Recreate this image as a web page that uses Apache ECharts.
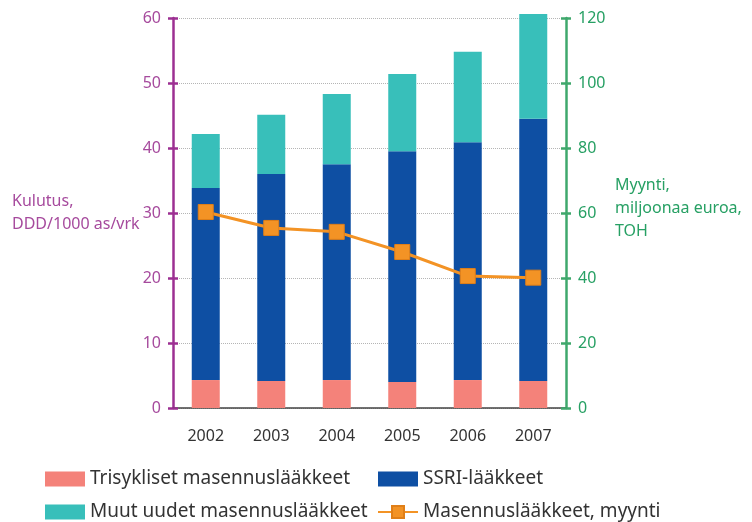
<!DOCTYPE html>
<html>
<head>
<meta charset="utf-8">
<script src="https://cdn.jsdelivr.net/npm/echarts@6/dist/echarts.min.js"></script>
<style>
	html, body { margin: 0; padding: 0; background: #fff; }
	#chart { width: 752px; height: 522px; }
</style>
</head>
<body>
<div id="chart"></div>
<script>
	var years = ['2002', '2003', '2004', '2005', '2006', '2007'];
	var trisykliset = [4.3, 4.15, 4.3, 4.0, 4.3, 4.15];
	var ssri = [29.55, 31.85, 33.2, 35.5, 36.6, 40.35];
	var muut = [8.3, 9.1, 10.8, 11.9, 13.9, 16.1];
	var myynti = [60.3, 55.4, 54.2, 48.0, 40.6, 40.1];

	var purple = '#9c2f92';
	var green = '#3fa86c';
	var font = 'Noto Sans';

	var chart = echarts.init(document.getElementById('chart'));

	// left / right axis, ticks on both sides -> extra axis with inside ticks
	function leftAxis(inside) {
		return {
			type: 'value', min: 0, max: 60, interval: 10, position: 'left',
			axisLine: { show: !inside, lineStyle: { color: purple, width: 2.5 } },
			axisTick: { show: true, inside: inside, length: 5, lineStyle: { color: purple, width: 2.5 } },
			axisLabel: { show: !inside, color: '#a64a9d', fontSize: 16, fontFamily: font, margin: 12 },
			splitLine: { show: !inside, lineStyle: { color: '#b5b5b5', type: 'dotted', width: 1 } }
		};
	}
	function rightAxis(inside) {
		return {
			type: 'value', min: 0, max: 120, interval: 20, position: 'right',
			axisLine: { show: !inside, lineStyle: { color: green, width: 2.5 } },
			axisTick: { show: true, inside: inside, length: 5, lineStyle: { color: green, width: 2.5 } },
			axisLabel: { show: !inside, color: '#27a064', fontSize: 16, fontFamily: font, margin: 12 },
			splitLine: { show: false }
		};
	}

	var legendText = { color: '#333', fontSize: 19, fontFamily: font, lineHeight: 20 };

	var option = {
		animation: false,
		grid: { left: 173, right: 186, top: 18, bottom: 114 },
		xAxis: {
			type: 'category',
			data: years,
			axisLine: { lineStyle: { color: '#444', width: 1.5 } },
			axisTick: { show: false },
			axisLabel: { color: '#333', fontSize: 16, fontFamily: font, margin: 20 }
		},
		yAxis: [leftAxis(false), rightAxis(false), leftAxis(true), rightAxis(true)],
		legend: [{
			orient: 'vertical', left: 45, top: 469, height: 60, padding: 0,
			itemWidth: 40, itemHeight: 15, itemGap: 13, icon: 'rect',
			textStyle: legendText,
			data: ['Trisykliset masennuslääkkeet', 'Muut uudet masennuslääkkeet']
		}, {
			orient: 'vertical', left: 377, top: 469, height: 60, padding: 0,
			itemWidth: 40, itemHeight: 15, itemGap: 13,
			textStyle: legendText,
			data: [{ name: 'SSRI-lääkkeet', icon: 'rect' }, 'Masennuslääkkeet, myynti']
		}],
		graphic: [{
			type: 'text', left: 12, top: 190,
			style: { text: 'Kulutus,\nDDD/1000 as/vrk', fill: '#a64a9d', font: '16px "Noto Sans"', lineHeight: 23 }
		}, {
			type: 'text', left: 615, top: 174,
			style: { text: 'Myynti,\nmiljoonaa euroa,\nTOH', fill: '#27a064', font: '16px "Noto Sans"', lineHeight: 23 }
		}],
		series: [{
			name: 'Trisykliset masennuslääkkeet', type: 'bar', stack: 'k', barWidth: 28, clip: false,
			itemStyle: { color: '#f4827a' }, data: trisykliset
		}, {
			name: 'SSRI-lääkkeet', type: 'bar', stack: 'k', clip: false,
			itemStyle: { color: '#0e4fa3' }, data: ssri
		}, {
			name: 'Muut uudet masennuslääkkeet', type: 'bar', stack: 'k', clip: false,
			itemStyle: { color: '#38bfba' }, data: muut
		}, {
			name: 'Masennuslääkkeet, myynti', type: 'line', yAxisIndex: 1,
			symbol: 'rect', symbolSize: 15,
			lineStyle: { color: '#f39325', width: 3 },
			itemStyle: { color: '#f39325', borderColor: '#e07f18', borderWidth: 1 },
			data: myynti
		}]
	};
	chart.setOption(option);
</script>
</body>
</html>
